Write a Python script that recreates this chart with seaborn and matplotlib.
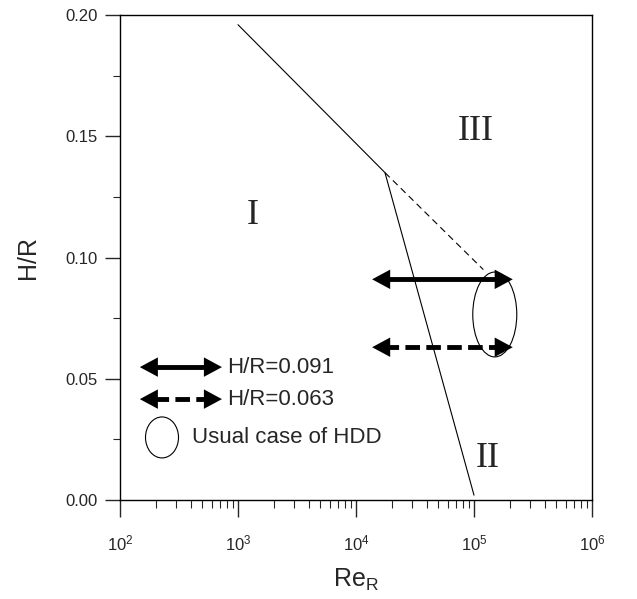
import numpy as np
import pandas as pd
import seaborn as sns
import matplotlib.pyplot as plt
from matplotlib.patches import Ellipse
from matplotlib.ticker import LogLocator, FixedLocator, NullFormatter

# Regime boundaries (Re_R vs H/R)
boundary_x = [1.0e3, 1.76e4, 1.0e5]
boundary_y = [0.196, 0.135, 0.002]
dashed_x = [1.76e4, 1.2e5]
dashed_y = [0.135, 0.095]

# Operating ranges (double arrows)
arrow_labels = ["H/R=0.091", "H/R=0.063"]
arrow_hr = [0.091, 0.063]
arrow_re_min = [1.37e4, 1.37e4]
arrow_re_max = [2.13e5, 2.13e5]

# Usual case of HDD (ellipse)
hdd_re_center = 1.5e5
hdd_hr_center = 0.0765
hdd_decades = 0.373
hdd_hr_height = 0.035

# Region labels
region_names = ["I", "II", "III"]
region_re = [1.34e3, 1.32e5, 1.04e5]
region_hr = [0.1175, 0.0173, 0.152]

x_ticks = [1e2, 1e3, 1e4, 1e5, 1e6]
x_ticklabels = ["10$^2$", "10$^3$", "10$^4$", "10$^5$", "10$^6$"]
y_ticks = [0.00, 0.05, 0.10, 0.15, 0.20]

sns.set_style("ticks")
plt.rcParams['font.family'] = ['Liberation Sans', 'DejaVu Sans']
plt.rcParams['mathtext.fontset'] = 'custom'
plt.rcParams['mathtext.rm'] = 'Liberation Sans'
plt.rcParams['mathtext.it'] = 'Liberation Sans'

fig = plt.figure(figsize=(6.37, 5.99), dpi=100)
ax = fig.add_axes([120 / 637, 1 - 500 / 599, 472 / 637, 485 / 599])

df_b = pd.DataFrame({"Re": boundary_x, "HR": boundary_y})
df_d = pd.DataFrame({"Re": dashed_x, "HR": dashed_y})
sns.lineplot(data=df_b, x="Re", y="HR", sort=False, color="black", lw=0.8, ax=ax)
sns.lineplot(data=df_d, x="Re", y="HR", sort=False, color="black", lw=0.8,
             ax=ax, dashes=False, linestyle=(0, (6, 4)))

ax.set_xscale("log")
ax.set_xlim(1e2, 1e6)
ax.set_ylim(0, 0.20)

head = "<|-|>,head_length=0.65,head_width=0.35"
styles = ["-", (0, (3, 1.3))]
for i in range(len(arrow_hr)):
    # shaft (solid or dashed), stopped short of the heads
    xs = [arrow_re_min[i] * 1.25, arrow_re_max[i] / 1.25]
    ax.plot(xs, [arrow_hr[i], arrow_hr[i]], color="black", lw=3.5,
            linestyle=styles[i], solid_capstyle="butt", dash_capstyle="butt")
    # filled heads only
    ax.annotate("", xy=(arrow_re_max[i], arrow_hr[i]), xytext=(arrow_re_min[i], arrow_hr[i]),
                arrowprops=dict(arrowstyle=head, mutation_scale=20, lw=0,
                                fc="black", ec="none", shrinkA=0, shrinkB=0))

# ellipse drawn in axes coords so it stays an ellipse on log axis
cx = (np.log10(hdd_re_center) - 2) / 4
cy = hdd_hr_center / 0.20
ax.add_patch(Ellipse((cx, cy), hdd_decades / 4, hdd_hr_height / 0.20,
                     transform=ax.transAxes, fill=False, ec="black", lw=0.8))

for name, xr, yr in zip(region_names, region_re, region_hr):
    ax.text(xr, yr, name, ha="center", va="center", fontsize=26,
            family="Liberation Serif")

# legend
leg_y = [0.274, 0.208]
leg_x0, leg_x1 = 0.042, 0.216
for i in range(len(arrow_labels)):
    ax.plot([leg_x0 + 0.03, leg_x1 - 0.03], [leg_y[i], leg_y[i]], transform=ax.transAxes,
            color="black", lw=3.5, linestyle=styles[i],
            solid_capstyle="butt", dash_capstyle="butt")
    ax.annotate("", xy=(leg_x1, leg_y[i]), xytext=(leg_x0, leg_y[i]), xycoords="axes fraction",
                arrowprops=dict(arrowstyle=head, mutation_scale=20, lw=0,
                                fc="black", ec="none", shrinkA=0, shrinkB=0))
    ax.text(0.228, leg_y[i], arrow_labels[i], transform=ax.transAxes,
            ha="left", va="center", fontsize=16)
ax.add_patch(Ellipse((0.089, 0.129), 33 / 472, 41 / 485, transform=ax.transAxes,
                     fill=False, ec="black", lw=0.8))
ax.text(0.153, 0.129, "Usual case of HDD", transform=ax.transAxes,
        ha="left", va="center", fontsize=16)

ax.xaxis.set_major_locator(FixedLocator(x_ticks))
ax.set_xticklabels(x_ticklabels)
ax.xaxis.set_minor_locator(LogLocator(base=10, subs=np.arange(2, 10)))
ax.xaxis.set_minor_formatter(NullFormatter())
ax.set_yticks(y_ticks)
ax.set_yticklabels([f"{v:.2f}" for v in y_ticks])
ax.yaxis.set_minor_locator(FixedLocator([0.025, 0.075, 0.125, 0.175]))

ax.tick_params(axis="x", which="major", length=12, width=1, direction="out",
               labelsize=12, pad=12, top=False)
ax.tick_params(axis="x", which="minor", length=6, width=0.8, direction="out", top=False)
ax.tick_params(axis="y", which="major", length=11, width=1, direction="out",
               labelsize=12, pad=5, right=False)
ax.tick_params(axis="y", which="minor", length=5, width=0.8, direction="out", right=False)

for s in ax.spines.values():
    s.set_linewidth(1)
    s.set_color("black")

ax.set_xlabel("Re$_\\mathregular{R}$", fontsize=18, labelpad=10)
ax.set_ylabel("H/R", fontsize=18, labelpad=18)

fig.savefig("out.png", dpi=100)
